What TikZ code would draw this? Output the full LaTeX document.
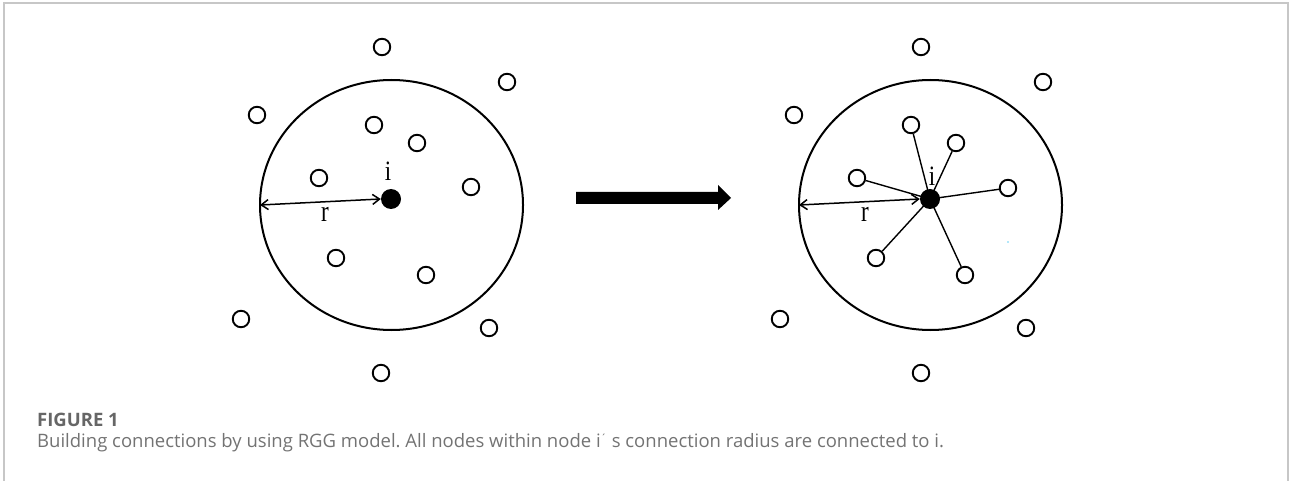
\documentclass[tikz,border=0pt]{standalone}
\usepackage{fontspec}
\setmainfont{Liberation Serif}
\newfontfamily\capfont{Open Sans}
\usetikzlibrary{arrows.meta}
\frenchspacing

\tikzset{
  peer/.style={circle, draw=black, line width=1.9pt, fill=white, minimum size=16.5pt, inner sep=0pt},
  hub/.style={circle, fill=black, minimum size=20pt, inner sep=0pt},
  reachring/.style={draw=black, line width=2pt},
  radius arrow/.style={line width=1.5pt, {Straight Barb[length=7pt,width=10pt]}-{Straight Barb[length=7pt,width=10pt]}},
  link/.style={line width=1.4pt},
  serif label/.style={font=\fontsize{20}{20}\selectfont, inner sep=0pt},
  frame/.style={draw=black!22, line width=1.5pt},
  bigarrow/.style={fill=black},
}

\begin{document}
\begin{tikzpicture}[x=1pt, y=-1pt]
  \useasboundingbox (0,0) rectangle (1290,481);

  % outer frame
  \draw[frame] (4,481) -- (4,3) -- (1288,3) -- (1288,481);

  % ---------- left panel: nodes before linking ----------
  \begin{scope}[shift={(391,199)}]
    \draw[reachring] (0.5,6) ellipse [x radius=131.5, y radius=125];
    \coordinate (Lw) at (-131,6);
    \foreach \x/\y [count=\k] in {-9/-152, 116/-117, -134/-84, -17/-74, 26/-56,
        -72/-21, 80/-12, -55/59, 35/76, -150/120, 98/129, -10/174}
      \node[peer] (L\k) at (\x,\y) {};
    \node[hub] (Li) at (0,0) {};
    \node[serif label] (Llab) at (-3,-28) {\scalebox{1.15}[1.4]{i}};
    \node[serif label] (Lr) at (-66,15) {\scalebox{1.15}[1.5]{r}};
  \end{scope}
  \draw[radius arrow] (Lw) -- (Li.west);

  % ---------- transition arrow ----------
  \fill[bigarrow] (576,192) -- (718,192) -- (718,185) -- (731,198)
                  -- (718,210) -- (718,204) -- (576,204) -- cycle;

  % ---------- right panel: nodes linked to i ----------
  \begin{scope}[shift={(930,199)}]
    \draw[reachring] (0.5,6) ellipse [x radius=131.5, y radius=125];
    \coordinate (Rw) at (-131,6);
    \foreach \x/\y [count=\k] in {-9/-152, 113/-117, -136/-84, -19/-74, 26/-56,
        -73/-21, 78/-11, -54/59, 35/76, -150/120, 96/129, -9/174}
      \node[peer] (R\k) at (\x,\y) {};
    \node[hub] (Ri) at (0,0) {};
    \node[serif label] (Rlab) at (2,-23) {\scalebox{1.15}[1.4]{i}};
    \node[serif label] (Rr) at (-65,15) {\scalebox{1.15}[1.5]{r}};
    \fill[cyan!60] (78,43) circle (0.9);
  \end{scope}
  \foreach \k in {4,5,6,7,8,9}
    \draw[link] (Ri.center) -- (R\k);
  \draw[radius arrow] (Rw) -- (Ri.west);

  % ---------- caption ----------
  \node[anchor=west, inner sep=0pt, text=black!60, font=\capfont\fontsize{18.5}{18.5}\selectfont\bfseries]
    (figno) at (37,420) {FIGURE 1};
  \node[anchor=west, inner sep=0pt, text=black!55, font=\capfont\fontsize{18.5}{18.5}\selectfont]
    (cap) at (37,443) {Building connections by using RGG model. All nodes within node i\raisebox{0.55ex}{\fontsize{11}{11}\selectfont\textasciiacute}\ s connection radius are connected to i.};
\end{tikzpicture}
\end{document}
